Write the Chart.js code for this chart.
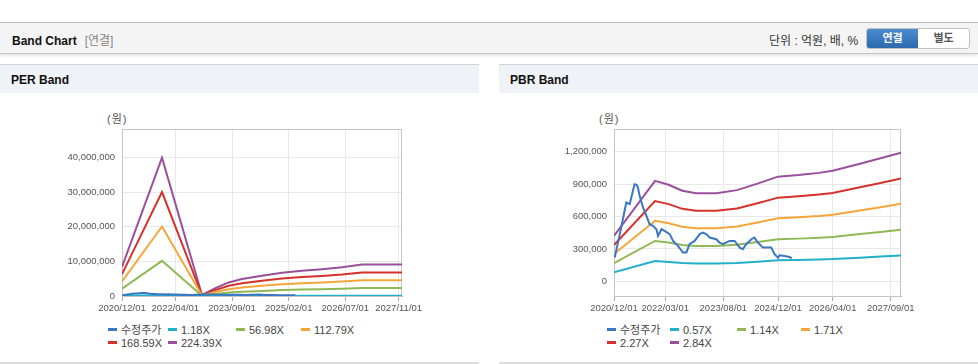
<!DOCTYPE html>
<html lang="ko">
<head>
<meta charset="utf-8">
<title>Band Chart</title>
<script src="https://cdn.jsdelivr.net/npm/chart.js@4.4.1/dist/chart.umd.min.js"></script>
<style>
    body {
        margin: 0;
        width: 978px;
        height: 364px;
        position: relative;
        overflow: hidden;
        background: #fff;
        font-family: 'Liberation Sans', 'Noto Sans CJK KR', sans-serif;
        color: #222;
    }
    .top-bar {
        position: absolute;
        left: 0;
        top: 22px;
        width: 978px;
        height: 30px;
        background: #f4f4f4;
        border-top: 1px solid #b8b8b8;
        border-bottom: 1px solid #c4c4c4;
        box-shadow: 0 2px 3px rgba(0, 0, 0, 0.10);
    }
    .top-title {
        position: absolute;
        left: 12px;
        top: 8px;
        font-size: 12px;
        font-weight: bold;
        color: #111;
    }
    .top-title span {
        font-weight: normal;
        color: #888;
        margin-left: 8px;
    }
    .unit {
        position: absolute;
        left: 769px;
        top: 8px;
        font-size: 12px;
        color: #333;
    }
    .btns {
        position: absolute;
        left: 866px;
        top: 5px;
        width: 102px;
        height: 19px;
        display: flex;
        border: 1px solid #c2c2c2;
        border-radius: 3px;
        overflow: hidden;
        background: #fff;
    }
    .btns div {
        flex: 1;
        text-align: center;
        font-size: 11px;
        font-weight: bold;
        line-height: 19px;
        color: #555;
    }
    .btns .on {
        background: linear-gradient(#4b8bd0, #2c69ad);
        color: #fff;
    }
    .panel {
        position: absolute;
        top: 64px;
        width: 479px;
        height: 297px;
        border-top: 1px solid #d2d2d2;
        border-bottom: 2px solid #dcdcdc;
    }
    .panel-head {
        height: 28px;
        background: #eff2f7;
        font-size: 12px;
        font-weight: bold;
        line-height: 30px;
        padding-left: 11px;
        color: #111;
    }
    .chart-box {
        position: absolute;
        top: 31px;
        left: 0;
        width: 479px;
        height: 225px;
    }
    .unit-label {
        position: absolute;
        top: 45px;
        font-size: 11px;
        color: #555;
        letter-spacing: 1px;
    }
    .legend {
        position: absolute;
        top: 259px;
        display: grid;
        grid-auto-rows: 13.3px;
        font-size: 11px;
        color: #444;
    }
    .legend div {
        white-space: nowrap;
        line-height: 13px;
    }
    .legend i {
        display: inline-block;
        width: 9px;
        height: 3px;
        margin-right: 4px;
        vertical-align: 3px;
    }
</style>
</head>
<body>

<div class="top-bar">
    <div class="top-title">Band Chart<span>[연결]</span></div>
    <div class="unit">단위 : 억원, 배, %</div>
    <div class="btns"><div class="on">연결</div><div>별도</div></div>
</div>

<div class="panel" style="left:0">
    <div class="panel-head">PER Band</div>
    <div class="unit-label" style="left:107px">(원)</div>
    <div class="chart-box"><canvas id="chartPer"></canvas></div>
    <div class="legend" id="legendPer" style="left:108px; grid-template-columns:60px 68px 65px auto"></div>
</div>

<div class="panel" style="left:499px">
    <div class="panel-head">PBR Band</div>
    <div class="unit-label" style="left:100px">(원)</div>
    <div class="chart-box"><canvas id="chartPbr"></canvas></div>
    <div class="legend" id="legendPbr" style="left:108px; grid-template-columns:63px 67px 64px auto"></div>
</div>

<script>
// ---- datos ----
// eje X: meses desde 2020/12 hasta 2027/12
const axisStart = '2020/12/01';
const axisEnd = '2027/12/01';

const perTickLabels = ['2020/12/01', '2022/04/01', '2023/09/01', '2025/02/01', '2026/07/01', '2027/11/01'];
const pbrTickLabels = ['2020/12/01', '2022/03/01', '2023/08/01', '2024/12/01', '2026/04/01', '2027/09/01'];

// eje Y
const perYTicks = [0, 10000000, 20000000, 30000000, 40000000];
const perYRange = [0, 48300000];
const pbrYTicks = [0, 300000, 600000, 900000, 1200000];
const pbrYRange = [-136500, 1411700];

// 수정주가 (원)
const priceDates = ['2020/12/07', '2021/01/22', '2021/03/19', '2021/04/19', '2021/06/01', '2021/06/19', '2021/07/01', '2021/07/16',
    '2021/08/16', '2021/09/16', '2021/10/13', '2021/11/13', '2021/12/13', '2021/12/28', '2022/01/28', '2022/02/25',
    '2022/04/10', '2022/05/10', '2022/06/22', '2022/08/07', '2022/09/07', '2022/10/04', '2022/11/19', '2023/01/04',
    '2023/02/01', '2023/03/01', '2023/04/01', '2023/05/28', '2023/06/28', '2023/07/28', '2023/08/25', '2023/09/25',
    '2023/11/10', '2023/12/25', '2024/01/22', '2024/02/22', '2024/04/07', '2024/05/04', '2024/06/04', '2024/07/19',
    '2024/09/01', '2024/10/01', '2024/11/01', '2024/12/01', '2024/12/16', '2025/01/28', '2025/03/13', '2025/04/01'];
const priceValues = [219000, 437000, 730000, 715000, 900000, 895000, 870000, 792000,
    684000, 606000, 529000, 514000, 483000, 421000, 483000, 467000,
    437000, 374000, 328000, 266000, 266000, 344000, 374000, 437000,
    451000, 437000, 405000, 390000, 359000, 344000, 359000, 374000,
    374000, 312000, 297000, 344000, 390000, 405000, 359000, 312000,
    312000, 312000, 251000, 219000, 241000, 235000, 226000, 213000];

// PER Band
const perBandDates = ['2020/12/01', '2021/12/01', '2022/12/01', '2023/04/01', '2023/08/01', '2023/12/01', '2024/06/01',
    '2024/12/01', '2025/06/01', '2025/12/01', '2026/06/01', '2026/12/01', '2027/12/01'];
const perBandNames = ['1.18X', '56.98X', '112.79X', '168.59X', '224.39X'];
const per118 = [44000, 210000, 2000, 12000, 21000, 26000, 31000, 35000, 38000, 41000, 44000, 48000, 48000];
const per5698 = [2130000, 10160000, 70000, 570000, 1000000, 1250000, 1480000, 1710000, 1850000, 1970000, 2110000, 2310000, 2310000];
const per11279 = [4220000, 20110000, 150000, 1130000, 1970000, 2480000, 2930000, 3380000, 3670000, 3890000, 4170000, 4570000, 4570000];
const per16859 = [6310000, 30060000, 220000, 1690000, 2950000, 3710000, 4380000, 5060000, 5480000, 5820000, 6240000, 6830000, 6830000];
const per22439 = [8390000, 40000000, 290000, 2240000, 3930000, 4940000, 5830000, 6730000, 7290000, 7740000, 8300000, 9090000, 9090000];

// PBR Band
const pbrBandDates = ['2020/12/01', '2021/12/01', '2022/04/01', '2022/08/01', '2022/12/01', '2023/06/01', '2023/12/01',
    '2024/06/01', '2024/12/01', '2025/06/01', '2025/12/01', '2026/04/01', '2026/12/01', '2027/06/01', '2027/12/01'];
const pbrBandNames = ['0.57X', '1.14X', '1.71X', '2.27X', '2.84X'];
const pbr057 = [84500, 186800, 179600, 168600, 164000, 164000, 169600, 181700, 194700, 197700, 201700, 205500, 218800, 228800, 239200];
const pbr114 = [169000, 373700, 359200, 337200, 328000, 328000, 339200, 363300, 389300, 395400, 403400, 411100, 437500, 457600, 478500];
const pbr171 = [253400, 560500, 538800, 505800, 492000, 492000, 508700, 545000, 584000, 593000, 605200, 616600, 656300, 686400, 717700];
const pbr227 = [336400, 744100, 715300, 671400, 653100, 653100, 675300, 723400, 775200, 787200, 803400, 818600, 871200, 911200, 952700];
const pbr284 = [421000, 931000, 895000, 840000, 817000, 817000, 845000, 905000, 970000, 985000, 1005000, 1024000, 1090000, 1140000, 1192000];

// colores
const lineColors = {
    price: '#3a76c4',
    band1: '#22b0c8',
    band2: '#90b955',
    band3: '#f5a63a',
    band4: '#d4322b',
    band5: '#9a4f9c'
};

// fecha 'YYYY/MM/DD' -> meses desde axisStart
function toMonth(s) {
    const p = s.split('/').map(Number);
    const b = axisStart.split('/').map(Number);
    return (p[0] - b[0]) * 12 + (p[1] - b[1]) + (p[2] - 1) / 30;
}

function points(dates, values) {
    return dates.map((d, i) => ({ x: toMonth(d), y: values[i] }));
}

function lineSet(label, color, dates, values) {
    return {
        label: label,
        data: points(dates, values),
        borderColor: color,
        backgroundColor: color,
        borderWidth: 2,
        pointRadius: 0,
        tension: 0,
        fill: false
    };
}

// marco gris del área del gráfico
const framePlugin = {
    id: 'frame',
    beforeDatasetsDraw(chart) {
        const a = chart.chartArea;
        const ctx = chart.ctx;
        ctx.save();
        ctx.strokeStyle = '#c6c6c6';
        ctx.lineWidth = 1;
        ctx.strokeRect(a.left + 0.5, a.top + 0.5, a.right - a.left - 1, a.bottom - a.top);
        ctx.restore();
    }
};

const tickFont = { family: "'Liberation Sans', 'Noto Sans CJK KR', sans-serif", size: 9.5 };

function getOptions(tickLabels, yRange, yTicks, axisWidth) {
    const tickMonths = tickLabels.map(toMonth);
    return {
        responsive: true,
        maintainAspectRatio: false,
        animation: false,
        layout: { padding: { top: 33, right: 77, left: 0, bottom: 0 } },
        plugins: {
            legend: { display: false },
            tooltip: { enabled: false }
        },
        scales: {
            x: {
                type: 'linear',
                min: 0,
                max: toMonth(axisEnd),
                afterBuildTicks: function (axis) {
                    axis.ticks = tickMonths.map(v => ({ value: v }));
                },
                afterFit: function (axis) {
                    axis.height = 25;
                },
                ticks: {
                    autoSkip: false,
                    maxRotation: 0,
                    padding: 2,
                    color: '#555',
                    font: tickFont,
                    callback: function (value) {
                        const i = tickMonths.indexOf(value);
                        return i >= 0 ? tickLabels[i] : null;
                    }
                },
                grid: {
                    color: '#e8e8e8',
                    tickColor: '#aaa',
                    tickLength: 5
                },
                border: { color: '#a8a8a8' }
            },
            y: {
                min: yRange[0],
                max: yRange[1],
                afterBuildTicks: function (axis) {
                    axis.ticks = yTicks.map(v => ({ value: v }));
                },
                afterFit: function (axis) {
                    axis.width = axisWidth;
                },
                ticks: {
                    autoSkip: false,
                    padding: 7,
                    color: '#555',
                    font: tickFont,
                    callback: function (value) {
                        return value.toLocaleString('en-US');
                    }
                },
                grid: {
                    color: '#e8e8e8',
                    drawTicks: false
                },
                border: { color: '#a8a8a8' }
            }
        }
    };
}

function buildLegend(id, datasets) {
    const box = document.getElementById(id);
    box.innerHTML = datasets.map(ds =>
        '<div><i style="background:' + ds.borderColor + '"></i>' + ds.label + '</div>'
    ).join('');
}

document.addEventListener('DOMContentLoaded', function () {

    // 1. PER Band
    const perSets = [
        lineSet('수정주가', lineColors.price, priceDates, priceValues),
        lineSet(perBandNames[0], lineColors.band1, perBandDates, per118),
        lineSet(perBandNames[1], lineColors.band2, perBandDates, per5698),
        lineSet(perBandNames[2], lineColors.band3, perBandDates, per11279),
        lineSet(perBandNames[3], lineColors.band4, perBandDates, per16859),
        lineSet(perBandNames[4], lineColors.band5, perBandDates, per22439)
    ];
    new Chart(document.getElementById('chartPer'), {
        type: 'line',
        data: { datasets: perSets },
        options: getOptions(perTickLabels, perYRange, perYTicks, 122),
        plugins: [framePlugin]
    });
    buildLegend('legendPer', perSets);

    // 2. PBR Band
    const pbrSets = [
        lineSet('수정주가', lineColors.price, priceDates, priceValues),
        lineSet(pbrBandNames[0], lineColors.band1, pbrBandDates, pbr057),
        lineSet(pbrBandNames[1], lineColors.band2, pbrBandDates, pbr114),
        lineSet(pbrBandNames[2], lineColors.band3, pbrBandDates, pbr171),
        lineSet(pbrBandNames[3], lineColors.band4, pbrBandDates, pbr227),
        lineSet(pbrBandNames[4], lineColors.band5, pbrBandDates, pbr284)
    ];
    new Chart(document.getElementById('chartPbr'), {
        type: 'line',
        data: { datasets: pbrSets },
        options: getOptions(pbrTickLabels, pbrYRange, pbrYTicks, 115),
        plugins: [framePlugin]
    });
    buildLegend('legendPbr', pbrSets);
});
</script>
</body>
</html>
